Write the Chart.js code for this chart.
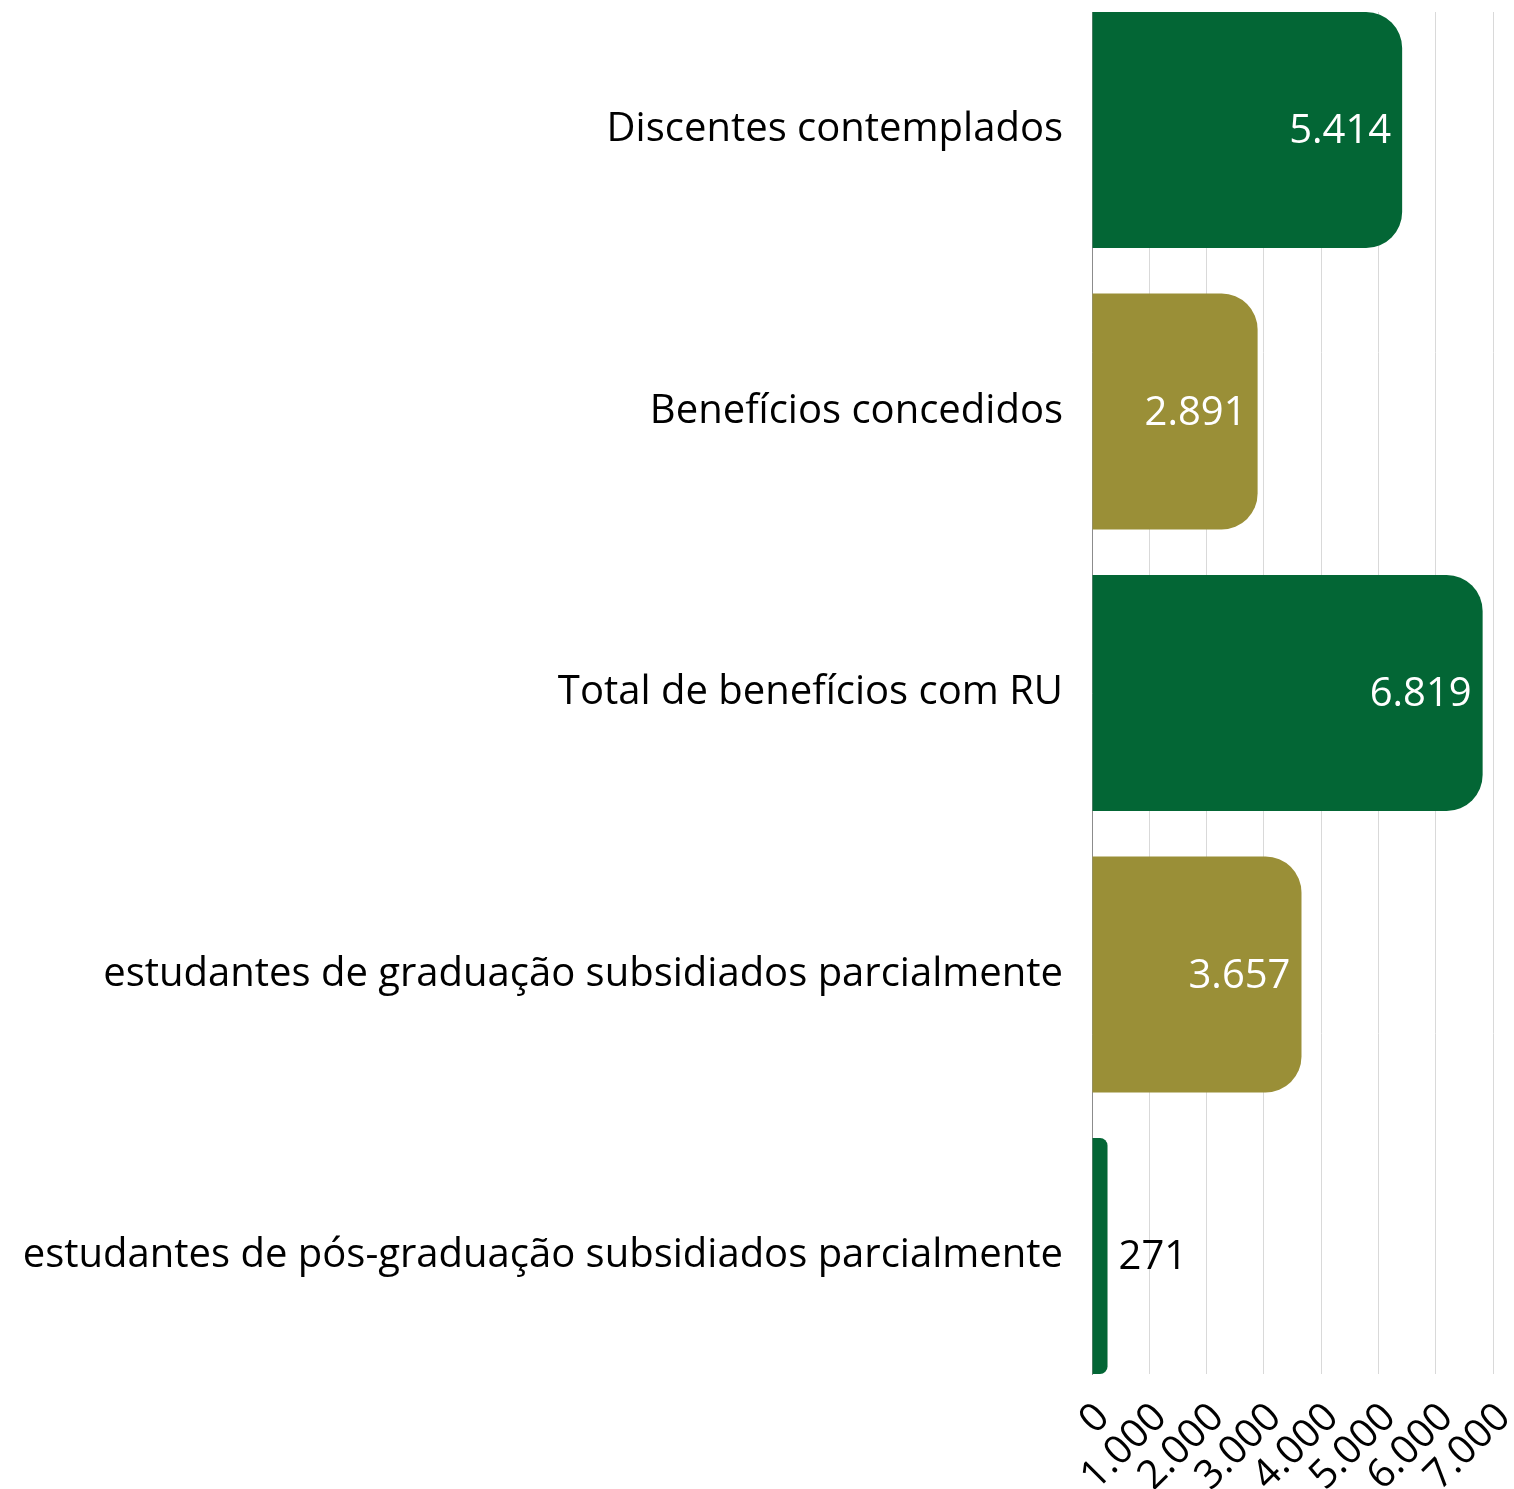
<!DOCTYPE html>
<html>
<head>
<meta charset="utf-8">
<script src="https://cdn.jsdelivr.net/npm/chart.js@4.4.0/dist/chart.umd.min.js"></script>
<style>
  body { margin: 0; background: #fff; }
  #wrap { width: 1514px; height: 1489px; }
</style>
</head>
<body>
<div id="wrap"><canvas id="benChart"></canvas></div>
<script>
const categories = [
    'Discentes contemplados',
    'Benefícios concedidos',
    'Total de benefícios com RU',
    'estudantes de graduação subsidiados parcialmente',
    'estudantes de pós-graduação subsidiados parcialmente'
];
const values = [5414, 2891, 6819, 3657, 271];
const barColors = ['#036635', '#9A8F37', '#036635', '#9A8F37', '#036635'];
const xTicks = [0, 1000, 2000, 3000, 4000, 5000, 6000, 7000];

// 5.414 style numbers
function fmt(n) {
    return String(n).replace(/\B(?=(\d{3})+(?!\d))/g, '.');
}

// value labels at the end of each bar (white inside, black outside)
const valueLabels = {
    id: 'valueLabels',
    afterDatasetsDraw(chart) {
        const ctx = chart.ctx;
        const meta = chart.getDatasetMeta(0);
        ctx.save();
        ctx.font = '40px "Open Sans"';
        ctx.textBaseline = 'middle';
        meta.data.forEach((bar, i) => {
            const txt = fmt(values[i]);
            const w = ctx.measureText(txt).width;
            const len = bar.x - bar.base;
            if (w + 24 < len) {
                ctx.fillStyle = '#ffffff';
                ctx.textAlign = 'right';
                ctx.fillText(txt, bar.x - 11, bar.y + 2);
            } else {
                ctx.fillStyle = '#000000';
                ctx.textAlign = 'left';
                ctx.fillText(txt, bar.x + 11, bar.y + 2);
            }
        });
        ctx.restore();
    }
};

const pad = 0.4192; // half gap so the first/last bars touch the plot edges

const ctx = document.getElementById('benChart').getContext('2d');
const chart = new Chart(ctx, {
    type: 'bar',
    data: {
        datasets: [{
            data: values.map((v, i) => ({ x: v, y: i })),
            backgroundColor: barColors,
            borderRadius: { topRight: 36, bottomRight: 36 },
            borderSkipped: false,
            categoryPercentage: 1,
            barPercentage: 0.838
        }]
    },
    options: {
        indexAxis: 'y',
        responsive: true,
        maintainAspectRatio: false,
        animation: false,
        layout: {
            padding: { top: 12, right: 21, left: 24, bottom: 0 }
        },
        plugins: {
            legend: { display: false },
            tooltip: { enabled: false }
        },
        scales: {
            x: {
                type: 'linear',
                min: 0,
                max: 7000,
                afterBuildTicks: function(scale) {
                    scale.ticks = xTicks.map(v => ({ value: v }));
                    scale.min = 0;
                    scale.max = 7000;
                },
                afterFit: function(scale) {
                    scale.height = 115;
                    scale.paddingRight = 0;
                },
                grid: {
                    color: '#d9d9d9',
                    lineWidth: 1,
                    drawTicks: false
                },
                border: { display: false },
                ticks: {
                    autoSkip: false,
                    minRotation: 45,
                    maxRotation: 45,
                    padding: 20,
                    labelOffset: 11,
                    color: '#000',
                    font: { family: 'Open Sans', size: 40 },
                    callback: function(value) {
                        return fmt(value);
                    }
                }
            },
            y: {
                type: 'linear',
                reverse: true,
                offset: false,
                afterBuildTicks: function(scale) {
                    scale.ticks = categories.map((c, i) => ({ value: i }));
                    scale.min = -pad;
                    scale.max = categories.length - 1 + pad;
                },
                afterFit: function(scale) {
                    scale.width = 1068;
                    scale.paddingTop = 0;
                    scale.paddingBottom = 0;
                },
                grid: { display: false, drawTicks: false },
                border: { display: true, color: '#8c8c8c', width: 1 },
                ticks: {
                    padding: 29,
                    color: '#000',
                    font: { family: 'Open Sans', size: 40 },
                    callback: function(value) {
                        return categories[value];
                    }
                }
            }
        }
    },
    plugins: [valueLabels]
});
</script>
</body>
</html>
